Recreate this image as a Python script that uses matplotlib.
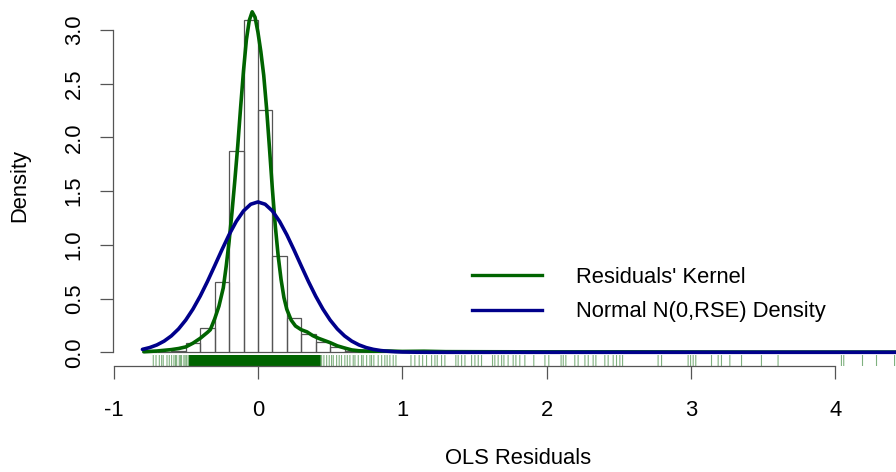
"""Histogram of OLS residuals with kernel density, normal density and rug."""
import matplotlib
matplotlib.use("Agg")
import matplotlib.pyplot as plt
from matplotlib.lines import Line2D

plt.rcParams["font.family"] = ["Liberation Sans", "DejaVu Sans"]

# histogram (density scale), bins of width 0.1 from -0.8 to 4.5
BIN_EDGES = [round(-0.8 + 0.1 * i, 1) for i in range(54)]
BIN_DENSITY = [0.003, 0.006, 0.009, 0.084, 0.225, 0.657, 1.874, 3.094, 2.260, 0.897,
               0.316, 0.167, 0.100, 0.045, 0.012, 0.008, 0.008, 0.006, 0.006, 0.004,
               0.004, 0.004, 0.003, 0.003, 0.002, 0.002, 0.002, 0.002, 0.001, 0.002,
               0.002, 0.001, 0.002, 0.002, 0.0, 0.0, 0.001, 0.0, 0.002, 0.0,
               0.001, 0.002, 0.001, 0.0, 0.001, 0.0, 0.0, 0.0, 0.0, 0.0,
               0.001, 0.001, 0.001]

# kernel density of the residuals
KDE_X = [-0.79, -0.70, -0.60, -0.55, -0.50, -0.45, -0.40, -0.35, -0.33, -0.30,
         -0.27, -0.24, -0.22, -0.20, -0.18, -0.16, -0.14, -0.12, -0.10, -0.08,
         -0.06, -0.04, -0.02, 0.00, 0.02, 0.04, 0.06, 0.08, 0.10, 0.12,
         0.14, 0.16, 0.18, 0.20, 0.23, 0.26, 0.30, 0.34, 0.38, 0.42,
         0.46, 0.50, 0.55, 0.60, 0.65, 0.70, 0.80, 0.90, 1.00, 1.15,
         1.30, 1.60, 2.00, 2.50, 3.00, 3.50, 4.42]
KDE_Y = [0.005, 0.012, 0.025, 0.035, 0.050, 0.085, 0.130, 0.185, 0.210, 0.310,
         0.430, 0.600, 0.800, 1.030, 1.300, 1.600, 1.920, 2.280, 2.620, 2.910,
         3.090, 3.170, 3.120, 2.980, 2.800, 2.580, 2.270, 1.900, 1.520, 1.180,
         0.900, 0.680, 0.510, 0.400, 0.300, 0.245, 0.210, 0.190, 0.155, 0.130,
         0.110, 0.090, 0.060, 0.040, 0.022, 0.014, 0.010, 0.012, 0.008, 0.010,
         0.006, 0.005, 0.004, 0.004, 0.003, 0.002, 0.002]

# normal N(0, RSE) density
NORM_X = [-0.80, -0.75, -0.70, -0.65, -0.60, -0.55, -0.50, -0.45, -0.40, -0.35,
          -0.30, -0.25, -0.20, -0.15, -0.10, -0.05, 0.00, 0.05, 0.10, 0.15,
          0.20, 0.25, 0.30, 0.35, 0.40, 0.45, 0.50, 0.55, 0.60, 0.65,
          0.70, 0.75, 0.80, 0.85, 0.90, 0.95, 1.00, 1.10, 1.20, 1.40, 4.42]
NORM_Y = [0.0272, 0.0439, 0.0686, 0.1039, 0.1526, 0.2174, 0.3004, 0.4025, 0.5228, 0.6585,
          0.8045, 0.9528, 1.0944, 1.2188, 1.3162, 1.3784, 1.3998, 1.3784, 1.3162, 1.2188,
          1.0944, 0.9528, 0.8045, 0.6585, 0.5228, 0.4025, 0.3004, 0.2174, 0.1526, 0.1039,
          0.0686, 0.0439, 0.0272, 0.0164, 0.0096, 0.0054, 0.0030, 0.0008, 0.0002, 0.0, 0.0]

# rug: the dense core and the scattered residuals
RUG_CORE = [-0.470, -0.463, -0.457, -0.450, -0.444, -0.436, -0.430, -0.423, -0.417, -0.409,
            -0.403, -0.396, -0.390, -0.382, -0.376, -0.369, -0.363, -0.355, -0.349, -0.342,
            -0.336, -0.328, -0.322, -0.315, -0.309, -0.301, -0.295, -0.288, -0.282, -0.274,
            -0.268, -0.261, -0.255, -0.247, -0.241, -0.234, -0.228, -0.220, -0.214, -0.207,
            -0.201, -0.193, -0.187, -0.180, -0.174, -0.166, -0.160, -0.153, -0.147, -0.139,
            -0.133, -0.126, -0.120, -0.112, -0.106, -0.099, -0.093, -0.085, -0.079, -0.072,
            -0.066, -0.058, -0.052, -0.045, -0.039, -0.031, -0.025, -0.018, -0.012, -0.004,
            0.002, 0.009, 0.015, 0.023, 0.029, 0.036, 0.042, 0.050, 0.056, 0.063,
            0.069, 0.077, 0.083, 0.090, 0.096, 0.104, 0.110, 0.117, 0.123, 0.131,
            0.137, 0.144, 0.150, 0.158, 0.164, 0.171, 0.177, 0.185, 0.191, 0.198,
            0.204, 0.212, 0.218, 0.225, 0.231, 0.239, 0.245, 0.252, 0.258, 0.266,
            0.272, 0.279, 0.285, 0.293, 0.299, 0.306, 0.312, 0.320, 0.326, 0.333,
            0.339, 0.347, 0.353, 0.360, 0.366, 0.374, 0.380, 0.387, 0.393, 0.401,
            0.407, 0.414, 0.420, 0.428]
RUG_TAIL = [-0.725, -0.706, -0.683, -0.667, -0.656, -0.630, -0.614, -0.598, -0.582, -0.571,
            -0.563, -0.545, -0.537, -0.529, -0.513, -0.504, -0.494, -0.483, -0.476,
            0.441, 0.457, 0.476, 0.494, 0.510, 0.522, 0.545, 0.563, 0.579, 0.602,
            0.619, 0.637, 0.660, 0.672, 0.695, 0.718, 0.729, 0.753, 0.776, 0.787,
            0.803, 0.833, 0.857, 0.879, 0.895, 0.914, 0.937, 0.956, 1.060, 1.087,
            1.117, 1.141, 1.168, 1.203, 1.226, 1.242, 1.272, 1.295, 1.371, 1.387,
            1.411, 1.434, 1.480, 1.503, 1.526, 1.549, 1.625, 1.641, 1.664, 1.688,
            1.704, 1.733, 1.768, 1.787, 1.814, 1.849, 1.911, 1.988, 2.015, 2.100,
            2.115, 2.133, 2.195, 2.218, 2.265, 2.288, 2.322, 2.341, 2.403, 2.426,
            2.461, 2.484, 2.507, 2.526, 2.772, 2.796, 2.980, 2.997, 3.015, 3.033,
            3.142, 3.188, 3.211, 3.269, 3.350, 3.488, 3.603, 4.042, 4.058, 4.188,
            4.285, 4.410]

X_TICKS = [-1, 0, 1, 2, 3, 4]
Y_TICKS = [0.0, 0.5, 1.0, 1.5, 2.0, 2.5, 3.0]
LEGEND_LABELS = ["Residuals' Kernel", "Normal N(0,RSE) Density"]

GREEN, BLUE, GREY = "#006400", "#00008B", "#555555"
W, H = 896, 472
FS = 15.8


def px(x, y):
    return x / W, 1 - y / H


fig = plt.figure(figsize=(W / 100, H / 100), dpi=100)
ax = fig.add_axes([113 / W, 1 - 366 / H, (W - 113) / W, 366 / H])
ax.set_xlim(-1.004, 4.42)
ax.set_ylim(-0.1276, 3.28)

widths = [BIN_EDGES[i + 1] - BIN_EDGES[i] for i in range(len(BIN_DENSITY))]
ax.bar(BIN_EDGES[:-1], BIN_DENSITY, width=widths, align="edge", fill=False,
       edgecolor=GREY, linewidth=0.9)

ax.plot(KDE_X, KDE_Y, color=GREEN, lw=2.6, solid_capstyle="round")
ax.plot(NORM_X, NORM_Y, color=BLUE, lw=2.6, solid_capstyle="round")

# rug along the bottom of the plot region (3% of height)
tr = ax.get_xaxis_transform()
ax.vlines(RUG_CORE, 0, 0.03, transform=tr, color=GREEN, lw=1.5, snap=False)
ax.vlines(RUG_TAIL, 0, 0.03, transform=tr, color=GREEN, lw=0.8, alpha=0.5, snap=False)

for s in ("top", "right"):
    ax.spines[s].set_visible(False)
ax.spines["left"].set_bounds(0, 3)
ax.spines["bottom"].set_bounds(-1, 4)
for s in ("left", "bottom"):
    ax.spines[s].set_color(GREY)
    ax.spines[s].set_linewidth(0.9)

ax.set_xticks(X_TICKS)
ax.set_xticklabels([str(t) for t in X_TICKS], fontsize=FS)
ax.set_yticks(Y_TICKS)
ax.set_yticklabels([f"{t:.1f}" for t in Y_TICKS], fontsize=FS, rotation=90, va="center")
ax.tick_params(axis="both", direction="out", length=9.4, width=0.9, color=GREY)
ax.tick_params(axis="x", pad=15)
ax.tick_params(axis="y", pad=11)

fig.text(*px(518, 464), "OLS Residuals", fontsize=FS, ha="center", va="baseline")
fig.text(*px(19.5, 185), "Density", fontsize=FS, ha="center", va="center", rotation=90)

# legend
for (y, col, lab) in ((275, GREEN, LEGEND_LABELS[0]), (309.5, BLUE, LEGEND_LABELS[1])):
    x0, yy = px(471.7, y)
    x1, _ = px(541.7, y)
    fig.add_artist(Line2D([x0, x1], [yy, yy], color=col, lw=2.4, transform=fig.transFigure))
    fig.text(*px(576, y + 7.8), lab, fontsize=FS, ha="left", va="baseline")

fig.savefig("out.png", dpi=100)
